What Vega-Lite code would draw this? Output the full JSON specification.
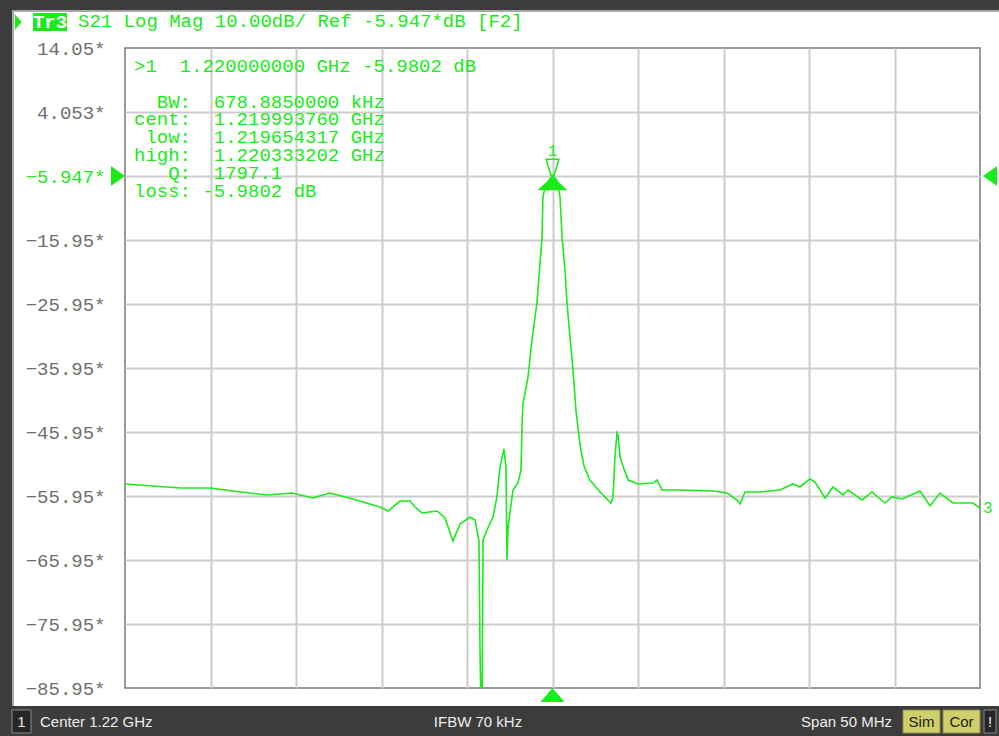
{
  "$schema": "https://vega.github.io/schema/vega-lite/v6.json",
  "width": 855,
  "height": 640,
  "autosize": {"type": "none"},
  "padding": {"left": 125, "top": 48, "right": 19, "bottom": 48},
  "background": "#ffffff",
  "config": {
    "view": {"stroke": "#7a7a7a", "strokeWidth": 1.5},
    "font": "Liberation Mono",
    "text": {"font": "Liberation Mono"}
  },
  "datasets": {
    "trace": [
      {"freq":1195.0,"db":-54.07},{"freq":1196.64,"db":-54.38},{"freq":1198.22,"db":-54.70},{"freq":1199.97,"db":-54.70},
      {"freq":1201.32,"db":-55.17},{"freq":1203.30,"db":-55.79},{"freq":1204.77,"db":-55.48},{"freq":1205.99,"db":-56.26},
      {"freq":1206.99,"db":-55.48},{"freq":1208.33,"db":-56.42},{"freq":1209.91,"db":-57.67},{"freq":1210.38,"db":-58.29},
      {"freq":1211.08,"db":-56.73},{"freq":1211.67,"db":-56.73},{"freq":1211.96,"db":-57.67},{"freq":1212.37,"db":-58.60},
      {"freq":1213.25,"db":-58.29},{"freq":1213.71,"db":-59.38},{"freq":1214.18,"db":-62.98},{"freq":1214.59,"db":-60.32},
      {"freq":1215.18,"db":-59.23},{"freq":1215.47,"db":-59.70},{"freq":1215.70,"db":-62.98},{"freq":1215.76,"db":-80.01},
      {"freq":1215.82,"db":-89.0},{"freq":1215.88,"db":-89.0},{"freq":1215.94,"db":-62.82},{"freq":1216.17,"db":-61.26},
      {"freq":1216.52,"db":-59.23},{"freq":1216.75,"db":-56.10},{"freq":1216.93,"db":-51.42},{"freq":1217.16,"db":-48.60},
      {"freq":1217.28,"db":-51.42},{"freq":1217.34,"db":-65.95},{"freq":1217.40,"db":-60.79},{"freq":1217.69,"db":-55.01},
      {"freq":1217.98,"db":-53.92},{"freq":1218.16,"db":-51.88},{"freq":1218.22,"db":-44.54},{"freq":1218.28,"db":-41.42},
      {"freq":1218.57,"db":-37.35},{"freq":1218.80,"db":-31.57},{"freq":1219.09,"db":-25.79},{"freq":1219.27,"db":-19.54},
      {"freq":1219.39,"db":-15.48},{"freq":1219.44,"db":-9.23},{"freq":1219.56,"db":-7.82},{"freq":1219.80,"db":-6.57},
      {"freq":1220.00,"db":-5.98},{"freq":1220.26,"db":-6.57},{"freq":1220.44,"db":-9.23},{"freq":1220.56,"db":-15.48},
      {"freq":1220.73,"db":-20.63},{"freq":1220.85,"db":-25.79},{"freq":1221.02,"db":-31.10},{"freq":1221.20,"db":-36.26},
      {"freq":1221.37,"db":-42.51},{"freq":1221.61,"db":-47.98},{"freq":1221.84,"db":-51.26},{"freq":1222.19,"db":-53.45},
      {"freq":1222.78,"db":-55.32},{"freq":1223.42,"db":-57.04},{"freq":1223.54,"db":-56.10},{"freq":1223.66,"db":-49.54},
      {"freq":1223.77,"db":-46.10},{"freq":1223.83,"db":-46.42},{"freq":1223.95,"db":-49.85},{"freq":1224.06,"db":-50.79},
      {"freq":1224.42,"db":-53.45},{"freq":1225.00,"db":-54.07},{"freq":1225.88,"db":-53.92},{"freq":1226.11,"db":-53.45},
      {"freq":1226.40,"db":-55.01},{"freq":1227.46,"db":-55.01},{"freq":1229.39,"db":-55.17},{"freq":1230.21,"db":-55.48},
      {"freq":1230.79,"db":-56.57},{"freq":1230.97,"db":-57.20},{"freq":1231.26,"db":-55.32},{"freq":1232.14,"db":-55.32},
      {"freq":1233.30,"db":-55.01},{"freq":1234.06,"db":-54.07},{"freq":1234.47,"db":-54.54},{"freq":1235.06,"db":-53.29},
      {"freq":1235.35,"db":-53.76},{"freq":1235.94,"db":-56.26},{"freq":1236.40,"db":-54.54},{"freq":1236.99,"db":-55.79},
      {"freq":1237.28,"db":-55.01},{"freq":1238.10,"db":-56.57},{"freq":1238.68,"db":-55.32},{"freq":1239.44,"db":-57.04},
      {"freq":1239.85,"db":-56.10},{"freq":1240.44,"db":-56.42},{"freq":1241.49,"db":-55.17},{"freq":1242.08,"db":-57.51},
      {"freq":1242.66,"db":-55.48},{"freq":1243.42,"db":-57.04},{"freq":1244.59,"db":-57.04},{"freq":1245.00,"db":-57.82}
    ],
    "marker": [{"freq": 1220.0, "db": -5.98, "label": "1"}],
    "one": [{}]
  },
  "layer": [
    {"data": {"name": "one"}, "mark": {"type": "rect", "color": "#3c3c3c"},
     "encoding": {"x": {"value": -125}, "x2": {"value": 874}, "y": {"value": -48}, "y2": {"value": -38}}},
    {"data": {"name": "one"}, "mark": {"type": "rect", "color": "#3c3c3c"},
     "encoding": {"x": {"value": -125}, "x2": {"value": -113}, "y": {"value": -48}, "y2": {"value": 688}}},
    {"data": {"name": "one"}, "mark": {"type": "rect", "color": "#a8a8a8"},
     "encoding": {"x": {"value": -113}, "x2": {"value": 874}, "y": {"value": -38}, "y2": {"value": -36}}},
    {"data": {"name": "one"}, "mark": {"type": "rect", "color": "#a8a8a8"},
     "encoding": {"x": {"value": -113}, "x2": {"value": -111}, "y": {"value": -38}, "y2": {"value": 658}}},
    {"data": {"name": "one"}, "mark": {"type": "rect", "color": "#3c3c3c"},
     "encoding": {"x": {"value": -125}, "x2": {"value": 874}, "y": {"value": 658}, "y2": {"value": 688}}},
    {"data": {"name": "one"}, "mark": {"type": "rect", "fill": "#262626", "stroke": "#8a8a8a", "strokeWidth": 1},
     "encoding": {"x": {"value": -113}, "x2": {"value": -94}, "y": {"value": 662}, "y2": {"value": 685}}},
    {"data": {"name": "one"}, "mark": {"type": "rect", "fill": "#cfcf6a", "stroke": "#8a8a50", "strokeWidth": 1},
     "encoding": {"x": {"value": 778}, "x2": {"value": 815}, "y": {"value": 662}, "y2": {"value": 685}}},
    {"data": {"name": "one"}, "mark": {"type": "rect", "fill": "#cfcf6a", "stroke": "#8a8a50", "strokeWidth": 1},
     "encoding": {"x": {"value": 818}, "x2": {"value": 855}, "y": {"value": 662}, "y2": {"value": 685}}},
    {"data": {"name": "one"}, "mark": {"type": "rect", "fill": "#262626", "stroke": "#8a8a8a", "strokeWidth": 1},
     "encoding": {"x": {"value": 859}, "x2": {"value": 871}, "y": {"value": 662}, "y2": {"value": 685}}},
    {"data": {"name": "one"}, "mark": {"type": "text", "text": "1", "font": "Liberation Sans", "fontSize": 15, "color": "#eeeeee", "align": "center", "baseline": "middle"},
     "encoding": {"x": {"value": -103.5}, "y": {"value": 674}}},
    {"data": {"name": "one"}, "mark": {"type": "text", "text": "Center 1.22 GHz", "font": "Liberation Sans", "fontSize": 15, "color": "#eeeeee", "align": "left", "baseline": "middle"},
     "encoding": {"x": {"value": -85}, "y": {"value": 674}}},
    {"data": {"name": "one"}, "mark": {"type": "text", "text": "IFBW 70 kHz", "font": "Liberation Sans", "fontSize": 15, "color": "#eeeeee", "align": "center", "baseline": "middle"},
     "encoding": {"x": {"value": 353}, "y": {"value": 674}}},
    {"data": {"name": "one"}, "mark": {"type": "text", "text": "Span 50 MHz", "font": "Liberation Sans", "fontSize": 15, "color": "#eeeeee", "align": "right", "baseline": "middle"},
     "encoding": {"x": {"value": 767}, "y": {"value": 674}}},
    {"data": {"name": "one"}, "mark": {"type": "text", "text": "Sim", "font": "Liberation Sans", "fontSize": 15, "color": "#1a1a1a", "align": "center", "baseline": "middle"},
     "encoding": {"x": {"value": 796.5}, "y": {"value": 674}}},
    {"data": {"name": "one"}, "mark": {"type": "text", "text": "Cor", "font": "Liberation Sans", "fontSize": 15, "color": "#1a1a1a", "align": "center", "baseline": "middle"},
     "encoding": {"x": {"value": 836.5}, "y": {"value": 674}}},
    {"data": {"name": "one"}, "mark": {"type": "text", "text": "!", "font": "Liberation Sans", "fontSize": 15, "color": "#eeeeee", "align": "center", "baseline": "middle"},
     "encoding": {"x": {"value": 865}, "y": {"value": 674}}},
    {"data": {"name": "one"}, "mark": {"type": "point", "shape": "M-0.4,-1L0.45,0L-0.4,1Z", "size": 256, "filled": true, "color": "#1aeb1a", "opacity": 1},
     "encoding": {"x": {"value": -107}, "y": {"value": -26}}},
    {"data": {"name": "one"}, "mark": {"type": "rect", "color": "#1aeb1a"},
     "encoding": {"x": {"value": -92}, "x2": {"value": -58}, "y": {"value": -35}, "y2": {"value": -17}}},
    {"data": {"name": "one"}, "mark": {"type": "text", "text": "Tr3", "fontSize": 19, "fontWeight": "bold", "color": "#ffffff", "align": "center", "baseline": "middle"},
     "encoding": {"x": {"value": -75}, "y": {"value": -26}}},
    {"data": {"name": "trace"},
     "mark": {"type": "line", "color": "#1aeb1a", "strokeWidth": 1.6, "clip": true},
     "encoding": {
       "x": {"field": "freq", "type": "quantitative",
             "scale": {"domain": [1195, 1245], "nice": false, "zero": false},
             "axis": {"values": [1200, 1205, 1210, 1215, 1220, 1225, 1230, 1235, 1240],
                      "grid": true, "gridColor": "#cccccc", "gridWidth": 2,
                      "labels": false, "ticks": false, "domain": false, "title": null}},
       "y": {"field": "db", "type": "quantitative",
             "scale": {"domain": [-85.947, 14.053], "nice": false, "zero": false},
             "axis": {"values": [14.053, 4.053, -5.947, -15.947, -25.947, -35.947, -45.947, -55.947, -65.947, -75.947, -85.947],
                      "labelExpr": "format(datum.value, '.4') + '*'",
                      "grid": true, "gridColor": "#cccccc", "gridWidth": 2,
                      "gridOpacity": {"condition": {"test": "datum.value < -85 || datum.value > 14", "value": 0}, "value": 1},
                      "labelColor": {"condition": {"test": "abs(datum.value + 5.947) < 0.01", "value": "#1aeb1a"}, "value": "#6e6e6e"},
                      "labelFont": "Liberation Mono", "labelFontSize": 19, "labelPadding": 20,
                      "labelFlush": false, "labelOverlap": false, "labelBound": false,
                      "ticks": false, "domain": false, "title": null}}
     }},
    {"data": {"name": "marker"},
     "mark": {"type": "point", "shape": "M-1,0.93L0,0L1,0.93Z", "size": 900, "filled": true, "color": "#1aeb1a", "opacity": 1},
     "encoding": {"x": {"field": "freq", "type": "quantitative"}, "y": {"field": "db", "type": "quantitative"}}},
    {"data": {"name": "marker"},
     "mark": {"type": "point", "shape": "M-0.8,-1L0.8,-1L0.2,1L-0.2,1Z", "size": 256, "filled": false, "stroke": "#1aeb1a", "strokeWidth": 1.5, "opacity": 1, "yOffset": -9},
     "encoding": {"x": {"field": "freq", "type": "quantitative"}, "y": {"field": "db", "type": "quantitative"}}},
    {"data": {"name": "marker"},
     "mark": {"type": "text", "fontSize": 16, "color": "#1aeb1a", "align": "center", "baseline": "middle", "dy": -25},
     "encoding": {"x": {"field": "freq", "type": "quantitative"}, "y": {"field": "db", "type": "quantitative"}, "text": {"field": "label"}}},
    {"data": {"name": "marker"},
     "mark": {"type": "point", "shape": "M-1,1.17L0,0L1,1.17Z", "size": 576, "filled": true, "color": "#1aeb1a", "opacity": 1},
     "encoding": {"x": {"field": "freq", "type": "quantitative"}, "y": {"datum": -85.947}}},
    {"data": {"name": "one"},
     "mark": {"type": "point", "shape": "M-1.4,-1L0,0L-1.4,1Z", "size": 400, "filled": true, "color": "#1aeb1a", "opacity": 1},
     "encoding": {"x": {"datum": 1195}, "y": {"datum": -5.947}}},
    {"data": {"name": "one"},
     "mark": {"type": "point", "shape": "M0,0L1.4,-1L1.4,1Z", "size": 400, "filled": true, "color": "#1aeb1a", "opacity": 1, "xOffset": 3},
     "encoding": {"x": {"datum": 1245}, "y": {"datum": -5.947}}},
    {"data": {"name": "one"},
     "mark": {"type": "text", "text": "3", "fontSize": 16, "color": "#1aeb1a", "align": "left", "baseline": "middle", "dx": 3},
     "encoding": {"x": {"datum": 1245}, "y": {"datum": -57.82}}},
    {"data": {"name": "one"},
     "mark": {"type": "text", "text": "S21 Log Mag 10.00dB/ Ref -5.947*dB [F2]", "fontSize": 19, "color": "#1aeb1a", "align": "left", "baseline": "middle", "dx": -47, "dy": -27},
     "encoding": {"x": {"datum": 1195}, "y": {"datum": 14.053}}},
    {"data": {"name": "one"},
     "mark": {"type": "text", "text": ">1\u00a0\u00a01.220000000 GHz -5.9802 dB", "fontSize": 19, "color": "#1aeb1a", "align": "left", "baseline": "alphabetic", "dx": 9, "dy": 24},
     "encoding": {"x": {"datum": 1195}, "y": {"datum": 14.053}}},
    {"data": {"name": "one"},
     "mark": {"type": "text", "text": "BW:\u00a0\u00a0678.8850000 kHz", "fontSize": 19, "color": "#1aeb1a", "align": "left", "baseline": "alphabetic", "dx": 31.8, "dy": 59.5},
     "encoding": {"x": {"datum": 1195}, "y": {"datum": 14.053}}},
    {"data": {"name": "one"},
     "mark": {"type": "text", "text": "cent:\u00a0\u00a01.219993760 GHz", "fontSize": 19, "color": "#1aeb1a", "align": "left", "baseline": "alphabetic", "dx": 9, "dy": 77.3},
     "encoding": {"x": {"datum": 1195}, "y": {"datum": 14.053}}},
    {"data": {"name": "one"},
     "mark": {"type": "text", "text": "low:\u00a0\u00a01.219654317 GHz", "fontSize": 19, "color": "#1aeb1a", "align": "left", "baseline": "alphabetic", "dx": 20.4, "dy": 95.1},
     "encoding": {"x": {"datum": 1195}, "y": {"datum": 14.053}}},
    {"data": {"name": "one"},
     "mark": {"type": "text", "text": "high:\u00a0\u00a01.220333202 GHz", "fontSize": 19, "color": "#1aeb1a", "align": "left", "baseline": "alphabetic", "dx": 9, "dy": 112.9},
     "encoding": {"x": {"datum": 1195}, "y": {"datum": 14.053}}},
    {"data": {"name": "one"},
     "mark": {"type": "text", "text": "Q:\u00a0\u00a01797.1", "fontSize": 19, "color": "#1aeb1a", "align": "left", "baseline": "alphabetic", "dx": 43.2, "dy": 130.7},
     "encoding": {"x": {"datum": 1195}, "y": {"datum": 14.053}}},
    {"data": {"name": "one"},
     "mark": {"type": "text", "text": "loss:\u00a0-5.9802 dB", "fontSize": 19, "color": "#1aeb1a", "align": "left", "baseline": "alphabetic", "dx": 9, "dy": 148.5},
     "encoding": {"x": {"datum": 1195}, "y": {"datum": 14.053}}}
  ]
}
